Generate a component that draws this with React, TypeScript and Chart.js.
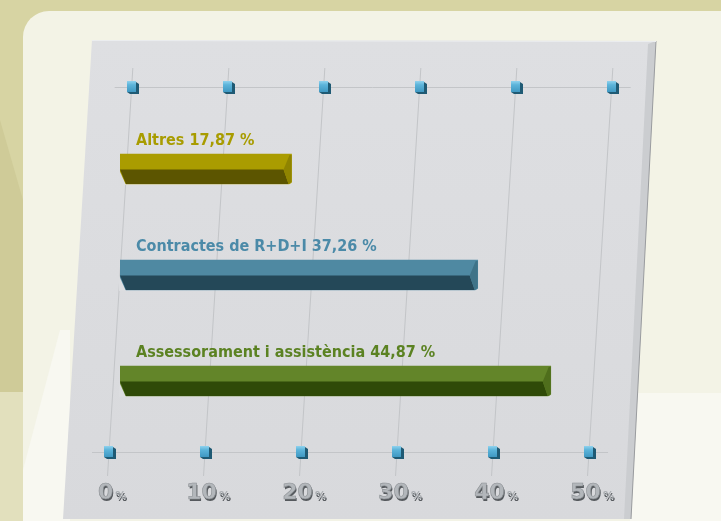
import React, { useEffect, useRef } from "react";
import { Chart, registerables } from "chart.js";

Chart.register(...registerables);

const categories = ["Altres", "Contractes de R+D+I", "Assessorament i assistència"];
const values = [17.87, 37.26, 44.87];
const valueLabels = ["17,87 %", "37,26 %", "44,87 %"];
const tickValues = [0, 10, 20, 30, 40, 50];
const tickDigits = ["0", "10", "20", "30", "40", "50"];
const topColors = ["#aa9c00", "#4f89a2", "#638529"];
const sideColors = ["#8f8400", "#3f7388", "#4f6e1c"];
const darkColors = ["#5c5500", "#244858", "#2f4a08"];
const labelColors = ["#a89c00", "#4b8aa8", "#5b8222"];

const SLOPE = 0.062;
const PANEL = "#dcdde0";
const LABEL_FONT = 'bold 16px "DejaVu Sans Condensed", "Liberation Sans Narrow", "Noto Sans", sans-serif';

function drawCube(ctx: CanvasRenderingContext2D, cx: number, cy: number) {
  ctx.save();
  ctx.fillStyle = "#1f5a74";
  ctx.beginPath();
  ctx.moveTo(cx + 4, cy - 5);
  ctx.lineTo(cx + 7, cy - 3);
  ctx.lineTo(cx + 7, cy + 7);
  ctx.lineTo(cx - 2, cy + 7);
  ctx.lineTo(cx - 5, cy + 5);
  ctx.lineTo(cx + 4, cy + 5);
  ctx.closePath();
  ctx.fill();
  const g = ctx.createLinearGradient(0, cy - 6, 0, cy + 5);
  g.addColorStop(0, "#8fd2ee");
  g.addColorStop(0.35, "#5cb4da");
  g.addColorStop(1, "#3f98c2");
  ctx.fillStyle = g;
  ctx.fillRect(cx - 5, cy - 6, 9, 11);
  ctx.restore();
}

const backgroundPlugin = {
  id: "bgPanel",
  beforeDraw(chart: any) {
    const ctx = chart.ctx as CanvasRenderingContext2D;
    const w = chart.width;
    const h = chart.height;
    ctx.save();
    ctx.fillStyle = "#d7d4a3";
    ctx.fillRect(0, 0, w, h);
    ctx.fillStyle = "#cfcb98";
    ctx.beginPath();
    ctx.moveTo(0, 120);
    ctx.lineTo(23, 200);
    ctx.lineTo(23, 392);
    ctx.lineTo(0, 395);
    ctx.closePath();
    ctx.fill();
    ctx.fillStyle = "#e2e0bd";
    ctx.fillRect(0, 392, 23, h - 392);
    // light panel
    ctx.fillStyle = "#f3f3e6";
    ctx.beginPath();
    (ctx as any).roundRect(23, 11, w + 40, h + 40, 26);
    ctx.fill();
    ctx.fillStyle = "#f8f8f1";
    ctx.beginPath();
    ctx.moveTo(23, 470);
    ctx.lineTo(60, 330);
    ctx.lineTo(70, 330);
    ctx.lineTo(70, h);
    ctx.lineTo(23, h);
    ctx.closePath();
    ctx.fill();
    ctx.fillRect(630, 393, w - 630, h - 393);
    // gray plot panel
    const pg = ctx.createLinearGradient(0, 40, 0, h);
    pg.addColorStop(0, "#dedfe2");
    pg.addColorStop(1, "#d8d9dc");
    ctx.fillStyle = pg;
    ctx.beginPath();
    ctx.moveTo(92, 40);
    ctx.lineTo(656, 41);
    ctx.lineTo(631, 519);
    ctx.lineTo(63, 519);
    ctx.closePath();
    ctx.fill();
    // right side thickness
    ctx.fillStyle = "#cbcdd0";
    ctx.beginPath();
    ctx.moveTo(648, 44);
    ctx.lineTo(656, 41);
    ctx.lineTo(631, 519);
    ctx.lineTo(624, 519);
    ctx.closePath();
    ctx.fill();
    ctx.strokeStyle = "#9a9c9f";
    ctx.lineWidth = 1;
    ctx.beginPath();
    ctx.moveTo(656, 41);
    ctx.lineTo(631, 519);
    ctx.stroke();
    ctx.strokeStyle = "#eceef0";
    ctx.beginPath();
    ctx.moveTo(92, 40.5);
    ctx.lineTo(656, 41.5);
    ctx.stroke();
    ctx.restore();
  },
};

const gridPlugin = {
  id: "skewGrid",
  beforeDatasetsDraw(chart: any) {
    const ctx = chart.ctx as CanvasRenderingContext2D;
    const xs = chart.scales.x;
    const area = chart.chartArea;
    const midY = (area.top + area.bottom) / 2;
    const lineX = (v: number, y: number) => xs.getPixelForValue(v) + (midY - y) * SLOPE;
    const topY = area.top - 29;
    const botY = area.bottom + 18;
    ctx.save();
    ctx.strokeStyle = "#c3c5c8";
    ctx.lineWidth = 1;
    tickValues.forEach((v) => {
      ctx.beginPath();
      ctx.moveTo(lineX(v, 68), 68);
      ctx.lineTo(lineX(v, 476), 476);
      ctx.stroke();
    });
    const first = tickValues[0];
    const last = tickValues[tickValues.length - 1];
    [topY, botY].forEach((y) => {
      ctx.beginPath();
      ctx.moveTo(lineX(first, y) - 17, y + 0.5);
      ctx.lineTo(lineX(last, y) + 19, y + 0.5);
      ctx.stroke();
    });
    tickValues.forEach((v) => {
      drawCube(ctx, Math.round(lineX(v, topY)), topY);
      drawCube(ctx, Math.round(lineX(v, botY)), botY);
    });
    // tick labels
    const labY = area.bottom + 65;
    tickValues.forEach((v, i) => {
      const cx = lineX(v, labY - 8);
      ctx.font = 'bold 22px "DejaVu Sans", sans-serif';
      const dw = ctx.measureText(tickDigits[i]).width;
      const x0 = cx - dw / 2 - 1;
      ctx.textAlign = "left";
      ctx.textBaseline = "alphabetic";
      ctx.fillStyle = "#55595d";
      ctx.fillText(tickDigits[i], x0 + 1, labY + 1.5);
      ctx.fillStyle = "#b3b7bb";
      ctx.fillText(tickDigits[i], x0, labY);
      ctx.strokeStyle = "#8c9094";
      ctx.lineWidth = 0.6;
      ctx.strokeText(tickDigits[i], x0, labY);
      ctx.font = 'bold 11px "DejaVu Sans", sans-serif';
      ctx.fillStyle = "#55595d";
      ctx.fillText("%", x0 + dw + 3, labY + 1.5);
      ctx.fillStyle = "#a8acb0";
      ctx.fillText("%", x0 + dw + 2, labY);
    });
    ctx.restore();
  },
};

const barPlugin = {
  id: "bar3d",
  afterDatasetsDraw(chart: any) {
    const ctx = chart.ctx as CanvasRenderingContext2D;
    const meta = chart.getDatasetMeta(0);
    ctx.save();
    meta.data.forEach((el: any, i: number) => {
      const p = el.getProps(["x", "y", "base", "height"], true);
      const x0 = p.base;
      const x1 = p.x;
      const t = p.y - p.height / 2;
      const b = p.y + p.height / 2;
      const m = t + p.height * 0.52;
      // cut bottom-left corner
      ctx.fillStyle = PANEL;
      ctx.beginPath();
      ctx.moveTo(x0 - 1, m);
      ctx.lineTo(x0 + 6, b + 1);
      ctx.lineTo(x0 - 1, b + 1);
      ctx.closePath();
      ctx.fill();
      ctx.beginPath();
      ctx.moveTo(x1 + 1, b - 2);
      ctx.lineTo(x1 + 1, b + 1);
      ctx.lineTo(x1 - 3, b + 1);
      ctx.closePath();
      ctx.fill();
      // dark lower face
      ctx.fillStyle = darkColors[i];
      ctx.beginPath();
      ctx.moveTo(x0, m);
      ctx.lineTo(x1 - 8, m);
      ctx.lineTo(x1 - 3, b);
      ctx.lineTo(x0 + 6, b);
      ctx.closePath();
      ctx.fill();
      // right end face
      ctx.fillStyle = sideColors[i];
      ctx.beginPath();
      ctx.moveTo(x1 - 8, m);
      ctx.lineTo(x1 - 2, t + 1);
      ctx.lineTo(x1, t + 1);
      ctx.lineTo(x1, b - 2);
      ctx.lineTo(x1 - 3, b);
      ctx.closePath();
      ctx.fill();
      // label
      ctx.font = LABEL_FONT;
      ctx.textAlign = "left";
      ctx.textBaseline = "middle";
      ctx.fillStyle = labelColors[i];
      ctx.fillText(categories[i] + " " + valueLabels[i], x0 + 16, t - 13);
    });
    ctx.restore();
  },
};

export default function App() {
  const ref = useRef<HTMLCanvasElement | null>(null);
  useEffect(() => {
    if (!ref.current) return;
    const chart = new Chart(ref.current, {
      type: "bar",
      data: {
        labels: categories,
        datasets: [
          {
            data: values,
            backgroundColor: topColors,
            borderWidth: 0,
            barThickness: 30,
          },
        ],
      },
      options: {
        indexAxis: "y",
        animation: false,
        responsive: false,
        maintainAspectRatio: false,
        layout: { padding: { left: 120, right: 121, top: 116, bottom: 87 } },
        scales: {
          x: { min: 0, max: 50, display: false },
          y: { display: false },
        },
        plugins: {
          legend: { display: false },
          tooltip: { enabled: false },
        },
      },
      plugins: [backgroundPlugin, gridPlugin, barPlugin],
    } as any);
    return () => chart.destroy();
  }, []);
  return (
    <div style={{ position: "absolute", left: 0, top: 0, width: 721, height: 521 }}>
      <canvas ref={ref} width={721} height={521} style={{ display: "block" }} />
    </div>
  );
}
